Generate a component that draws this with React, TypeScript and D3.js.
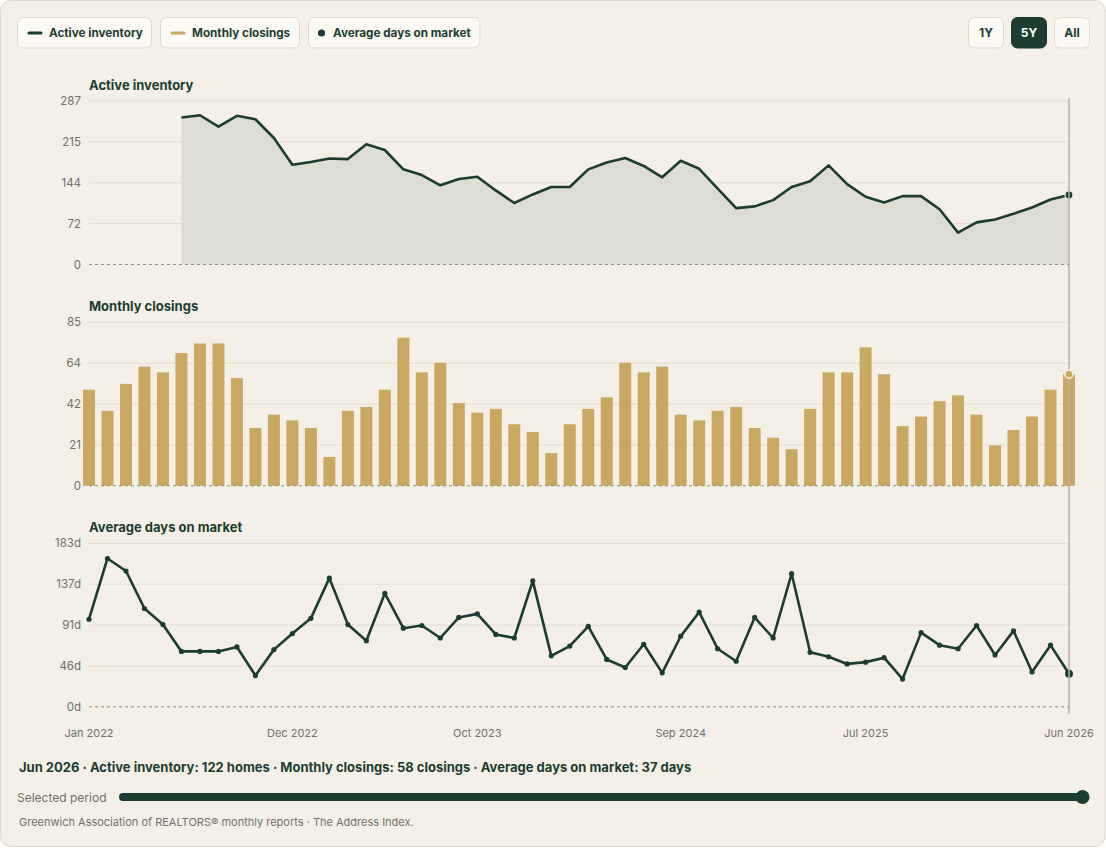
import React from 'react';
import * as d3 from 'd3';

// Monthly series, Jan 2022 → Jun 2026 (54 months)
const startMonth = new Date(2022, 0, 1);
const endMonth = new Date(2026, 6, 1);
const months = d3.timeMonth.range(startMonth, endMonth);

// Active inventory only begins in Jun 2022
const activeInventory: (number | null)[] = [
  null, null, null, null, null,
  258, 262, 242, 261, 255, 222, 175, 180, 186, 185, 211, 201, 167, 157, 139, 150, 154,
  130, 108, 123, 136, 136, 167, 179, 187, 173, 153, 182, 168, 133, 99, 102, 113, 136,
  146, 174, 141, 119, 109, 120, 120, 97, 56, 74, 79, 89, 100, 114, 122,
];

const monthlyClosings = [
  50, 39, 53, 62, 59, 69, 74, 74, 56, 30, 37, 34, 30, 15, 39, 41, 50, 77, 59, 64, 43, 38,
  40, 32, 28, 17, 32, 40, 46, 64, 59, 62, 37, 34, 39, 41, 30, 25, 19, 40, 59, 59, 72, 58,
  31, 36, 44, 47, 37, 21, 29, 36, 50, 58,
];

const daysOnMarket = [
  98, 166, 152, 110, 92, 62, 62, 62, 67, 35, 64, 82, 99, 144, 92, 74, 127, 88, 91, 77, 100,
  104, 81, 77, 141, 57, 68, 90, 53, 44, 70, 38, 79, 106, 65, 51, 100, 77, 149, 61, 56, 48,
  50, 55, 31, 83, 69, 65, 91, 58, 85, 39, 69, 37,
];

const inventoryTicks = ['0', '72', '144', '215', '287'];
const closingsTicks = ['0', '21', '42', '64', '85'];
const domTicks = ['0d', '46d', '91d', '137d', '183d'];

const legendItems = ['Active inventory', 'Monthly closings', 'Average days on market'];
const rangeButtons = ['1Y', '5Y', 'All'];
const activeRange = '5Y';

const DARK = '#1b3d2f';
const GOLD = '#c9a962';
const BG = '#f5f0e7';
const GRID = '#e4dcd0';
const MUTED = '#6f6f6a';
const FONT = 'Inter, "Noto Sans", sans-serif';

const W = 1106;
const H = 850;
const plotLeft = 89;
const plotRight = 1069;
const panelH = 163.5;

const fmtMonth = d3.timeFormat('%b %Y');

interface PanelProps {
  title: string;
  top: number;
  max: number;
  ticks: string[];
  children: (y: d3.ScaleLinear<number, number>) => React.ReactNode;
}

function Panel({ title, top, max, ticks, children }: PanelProps) {
  const y = d3.scaleLinear().domain([0, max]).range([top + panelH, top]);
  return (
    <g>
      <text x={plotLeft} y={top - 11} fontSize={13} fontWeight={700} fill={DARK}>{title}</text>
      {ticks.map((t, i) => {
        const yy = y((max * i) / (ticks.length - 1));
        return (
          <g key={t}>
            {i > 0 && <line x1={plotLeft} x2={plotRight} y1={yy} y2={yy} stroke={GRID} strokeWidth={1} />}
            <text x={81} y={yy} dy="0.35em" textAnchor="end" fontSize={11.5} fill={MUTED}>{t}</text>
          </g>
        );
      })}
      {children(y)}
      <line x1={plotLeft} x2={plotRight} y1={y(0)} y2={y(0)} stroke="#8f8c85" strokeWidth={1} strokeDasharray="3,3" />
    </g>
  );
}

export default function App() {
  const x = d3.scaleLinear().domain([0, months.length - 1]).range([plotLeft, plotRight]);
  const last = months.length - 1;
  const barW = 12;

  const invLine = d3.line<number | null>()
    .defined(d => d != null)
    .x((_, i) => x(i));
  const invArea = d3.area<number | null>()
    .defined(d => d != null)
    .x((_, i) => x(i));

  const xTickIdx = d3.range(6).map(i => Math.round((i * last) / 5));

  // legend pill widths
  const legendBoxes = [
    { x: 17.5, w: 134 },
    { x: 160.5, w: 139 },
    { x: 308.5, w: 171.5 },
  ];
  const buttonX = [968.5, 1011.5, 1054.5];

  const summary = `${fmtMonth(months[last])} · Active inventory: ${activeInventory[last]} homes · Monthly closings: ${monthlyClosings[last]} closings · Average days on market: ${daysOnMarket[last]} days`;

  return (
    <div style={{ position: 'absolute', left: 0, top: 0 }}>
      <svg width={W} height={H} style={{ display: 'block', fontFamily: FONT }}>
        <rect x={0} y={0} width={W} height={H} fill="#ffffff" />
        <rect x={0.5} y={0.5} width={W - 1.5} height={846} rx={10} fill={BG} stroke="#e0d8ca" />

        {/* legend */}
        {legendItems.map((label, i) => {
          const b = legendBoxes[i];
          return (
            <g key={label}>
              <rect x={b.x} y={17.5} width={b.w} height={30.5} rx={6} fill="#fbf9f3" stroke="#e0d9cb" />
              {i === 0 && <rect x={b.x + 10} y={31.5} width={15} height={3} rx={1.5} fill={DARK} />}
              {i === 1 && <rect x={b.x + 10} y={31.5} width={15} height={3} rx={1.5} fill={GOLD} />}
              {i === 2 && <circle cx={b.x + 13} cy={33} r={3.6} fill={DARK} />}
              <text x={b.x + (i === 2 ? 24.5 : 31.5)} y={33} dy="0.35em" fontSize={11.7} fontWeight={700} fill={DARK}>{label}</text>
            </g>
          );
        })}

        {/* range buttons */}
        {rangeButtons.map((label, i) => {
          const on = label === activeRange;
          return (
            <g key={label}>
              <rect x={buttonX[i]} y={17.5} width={35} height={30.5} rx={6}
                fill={on ? '#1c3d30' : '#fbf9f3'} stroke={on ? '#1c3d30' : '#e0d9cb'} />
              <text x={buttonX[i] + 17.5} y={33} dy="0.35em" textAnchor="middle" fontSize={12}
                fontWeight={700} fill={on ? '#ffffff' : DARK}>{label}</text>
            </g>
          );
        })}

        {/* Active inventory */}
        <Panel title="Active inventory" top={101} max={287} ticks={inventoryTicks}>
          {y => (
            <g>
              <path d={invArea.y0(y(0)).y1(d => y(d as number))(activeInventory) ?? ''} fill="#dcdbd1" opacity={0.95} />
              <path d={invLine.y(d => y(d as number))(activeInventory) ?? ''} fill="none" stroke={DARK}
                strokeWidth={2.6} strokeLinejoin="round" />
              <circle cx={x(last)} cy={y(activeInventory[last] as number)} r={4} fill={DARK} stroke={BG} strokeWidth={1.2} />
            </g>
          )}
        </Panel>

        {/* Monthly closings */}
        <Panel title="Monthly closings" top={322.3} max={85} ticks={closingsTicks}>
          {y => (
            <g>
              {monthlyClosings.map((v, i) => (
                <rect key={i} x={x(i) - barW / 2} y={y(v)} width={barW} height={y(0) - y(v)} fill={GOLD} />
              ))}
            </g>
          )}
        </Panel>

        {/* Average days on market */}
        <Panel title="Average days on market" top={543.3} max={183} ticks={domTicks}>
          {y => (
            <g>
              <path d={d3.line<number>().x((_, i) => x(i)).y(d => y(d))(daysOnMarket) ?? ''} fill="none"
                stroke={DARK} strokeWidth={2.6} strokeLinejoin="round" />
              {daysOnMarket.map((v, i) => (
                <circle key={i} cx={x(i)} cy={y(v)} r={i === last ? 4 : 2.6} fill={DARK} />
              ))}
            </g>
          )}
        </Panel>

        {/* hover marker on the selected month */}
        <line x1={x(last)} x2={x(last)} y1={98} y2={714} stroke="#b4b2a3" strokeWidth={1.5} />
        <circle cx={x(last)} cy={d3.scaleLinear().domain([0, 85]).range([322.3 + panelH, 322.3])(monthlyClosings[last])}
          r={4} fill={GOLD} stroke="#fbf3df" strokeWidth={1.5} />

        {/* x axis labels */}
        {xTickIdx.map(i => (
          <text key={i} x={x(i)} y={733} dy="0.35em" textAnchor="middle" fontSize={11} fill={MUTED}>
            {fmtMonth(months[i])}
          </text>
        ))}

        {/* summary + period slider + source */}
        <text x={19} y={767} dy="0.35em" fontSize={13} fontWeight={700} fill={DARK}>{summary}</text>
        <text x={17} y={797.5} dy="0.35em" fontSize={12} fill={MUTED}>Selected period</text>
        <line x1={123} x2={1082} y1={797} y2={797} stroke={DARK} strokeWidth={8} strokeLinecap="round" />
        <circle cx={1082.5} cy={797} r={7} fill={DARK} />
        <text x={19} y={822} dy="0.35em" fontSize={11} fill={MUTED}>
          Greenwich Association of REALTORS® monthly reports · The Address Index.
        </text>
      </svg>
    </div>
  );
}
